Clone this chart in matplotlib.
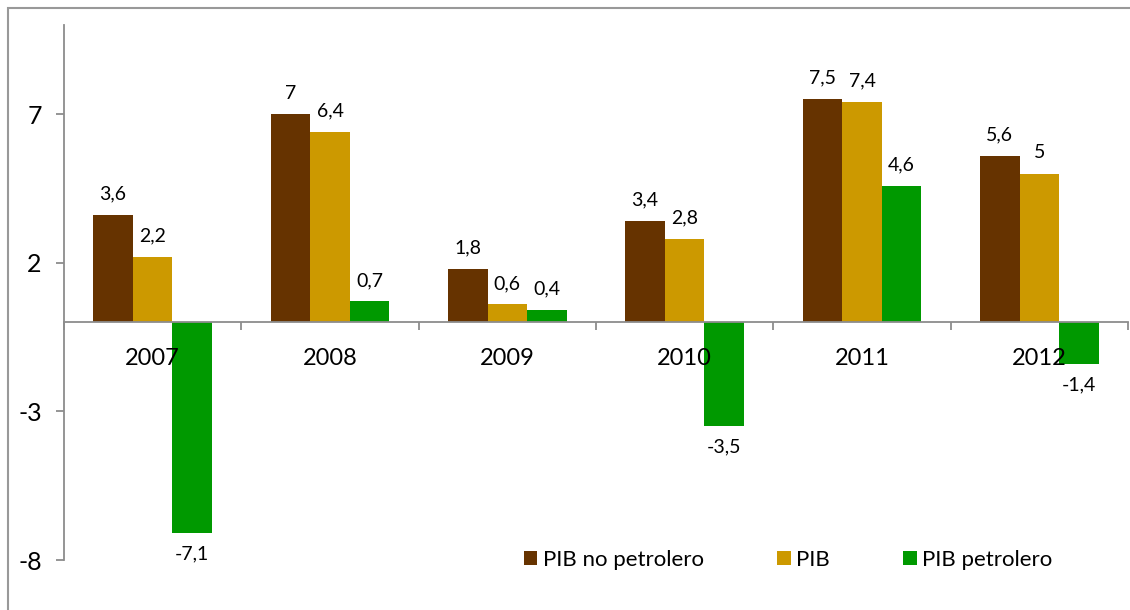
import matplotlib
matplotlib.use("Agg")
import matplotlib.pyplot as plt
from matplotlib.patches import Patch, Rectangle
import numpy as np

plt.rcParams['font.family'] = ['Lato', 'DejaVu Sans']

years = ["2007", "2008", "2009", "2010", "2011", "2012"]
pib_no_petrolero = [3.6, 7.0, 1.8, 3.4, 7.5, 5.6]
pib = [2.2, 6.4, 0.6, 2.8, 7.4, 5.0]
pib_petrolero = [-7.1, 0.7, 0.4, -3.5, 4.6, -1.4]

series = [
    ("PIB no petrolero", pib_no_petrolero, "#663300"),
    ("PIB", pib, "#CC9900"),
    ("PIB petrolero", pib_petrolero, "#009900"),
]

def fmt(v):
    return ("%g" % v).replace(".", ",")

fig = plt.figure(figsize=(11.3, 6.1), dpi=100)
ax = fig.add_axes([64/1130, 50/610, 1064/1130, 535/610])

x = np.arange(len(years))
w = 0.223
for i, (name, vals, col) in enumerate(series):
    bars = ax.bar(x + (i - 1) * w, vals, w, color=col, label=name, zorder=2)
    ax.bar_label(bars, labels=[fmt(v) for v in vals], padding=9, fontsize=14)

ax.set_xlim(-0.5, len(years) - 0.5)
ax.set_ylim(-8, 10)
ax.set_yticks([-8, -3, 2, 7])
ax.set_yticklabels(["-8", "-3", "2", "7"], fontsize=18)

gray = "#8c8c8c"
for s in ["top", "right"]:
    ax.spines[s].set_visible(False)
ax.spines["bottom"].set_position(("data", 0))
ax.spines["bottom"].set_color(gray)
ax.spines["left"].set_color(gray)
ax.spines["bottom"].set_linewidth(1.3)
ax.spines["left"].set_linewidth(1.3)
ax.tick_params(axis="y", colors=gray, labelcolor="black", length=6, width=1.3, pad=10)
ax.set_xticks(np.arange(len(years) + 1) - 0.5)
ax.set_xticklabels([])
ax.tick_params(axis="x", colors=gray, length=6, width=1.3, direction="out")

for xi, yr in zip(x, years):
    ax.annotate(yr, (xi, 0), xytext=(0, -26), textcoords="offset points",
                ha="center", va="center", fontsize=17)

handles = [Patch(facecolor=c, edgecolor="none") for _, _, c in series]
fig.legend(handles, [s[0] for s in series], loc="center left",
           bbox_to_anchor=(524/1130, 1 - 560/610), bbox_transform=fig.transFigure,
           ncol=3, frameon=False, fontsize=16, borderpad=0, borderaxespad=0,
           handlelength=0.6, handleheight=0.6, handletextpad=0.25,
           columnspacing=3.3)

fig.patches.append(Rectangle((8/1130, -0.1), 1.2, 1 - 8/610 + 0.1,
                             transform=fig.transFigure, fill=False,
                             edgecolor="#999999", linewidth=1.5))

fig.savefig("out.png")
